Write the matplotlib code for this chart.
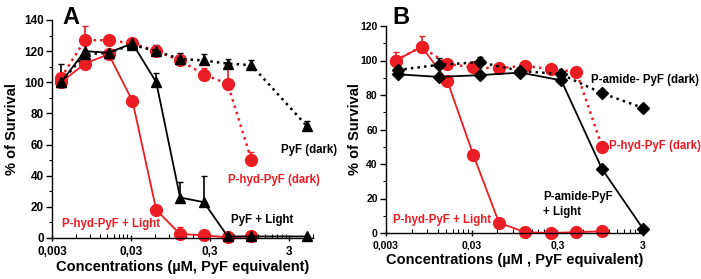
import numpy as np
import matplotlib
matplotlib.use('Agg')
import matplotlib.pyplot as plt
from matplotlib.ticker import FixedLocator, NullFormatter

plt.rcParams['font.family'] = ['Liberation Sans', 'DejaVu Sans']
plt.rcParams['font.weight'] = 'bold'

rouge = '#ec1c24'
noir = 'black'

# ------------------ PANEL A -------------------------------------------------
xA = [1/256, 1/128, 1/64, 1/32, 1/16, 1/8, 1/4, 1/2, 1, 5]
pyf_light = [100, 120, 119, 125, 100, 26, 23, 1, 1, 1]
pyf_light_err = [12, 0, 0, 3, 6, 10, 17, 0, 0, 0]
pyf_dark = [100, 118, 119, 124, 120, 115, 114, 112, 111, 72]
pyf_dark_err = [0, 0, 0, 2, 4, 4, 4, 3, 3, 3]

xA_hyd = [1/256, 1/128, 1/64, 1/32, 1/16, 1/8, 1/4, 1/2, 1]
hyd_light_A = [100, 112, 118, 88, 18, 2.6, 1.7, 0.5, 1]
hyd_light_A_err = [0, 0, 0, 0, 3.5, 4.7, 0, 0, 0]
hyd_dark_A = [103, 127, 127, 125, 120, 114, 105, 99, 50]
hyd_dark_A_err = [3, 9, 0, 0, 0, 2, 4, 13, 5]

# ------------------ PANEL B -------------------------------------------------
xB_amide = [3/729, 3/243, 3/81, 3/27, 3/9, 1, 3]
amide_light = [92, 90.5, 91.5, 93, 88.5, 37, 2.5]
amide_light_err = [0, 0, 0, 0, 0, 0, 0]
amide_dark = [94.5, 97.5, 99, 94, 92, 81, 72.5]
amide_dark_err = [0, 4, 3, 2, 0, 0, 0]

xB_hyd = [1/256, 1/128, 1/64, 1/32, 1/16, 1/8, 1/4, 1/2, 1]
hyd_light_B = [100, 108, 88, 45.5, 6, 0.5, 0, 0.5, 1]
hyd_light_B_err = [5, 6, 0, 0, 0, 0, 0, 0, 0]
hyd_dark_B = [100, 108, 98, 96, 95.5, 97, 95, 93.5, 50]
hyd_dark_B_err = [0, 0, 0, 0, 0, 0, 0, 0, 0]

xticks = [0.003, 0.03, 0.3, 3]
xticklabels = ['0,003', '0,03', '0,3', '3']

W, H = 701, 279
fig = plt.figure(figsize=(W/100, H/100), dpi=100)


def px(x0, y0, x1, y1):
    return [x0/W, 1 - y1/H, (x1 - x0)/W, (y1 - y0)/H]


def serie(ax, x, y, err, color, ls, marker, ms, lw):
    y = np.array(y, dtype=float)
    e = np.array(err, dtype=float)
    ax.errorbar(x, y, yerr=[np.zeros_like(e), e], fmt='none', ecolor=color,
                elinewidth=1.2, capsize=2.5, capthick=1.0, zorder=2)
    ax.plot(x, y, color=color, ls=ls, lw=lw, marker=marker, ms=ms,
            mec=color, mfc=color, zorder=3)


def habille(ax, xmax, ymax, fs_tick):
    ax.set_xscale('log')
    ax.set_xlim(0.003, xmax)
    ax.set_ylim(0, ymax)
    ax.spines['top'].set_visible(False)
    ax.spines['right'].set_visible(False)
    ax.xaxis.set_major_locator(FixedLocator(xticks))
    ax.set_xticklabels(xticklabels, fontsize=fs_tick, fontweight='bold')
    minors = [0.003*k*10**d for d in range(4) for k in range(2, 10)]
    ax.xaxis.set_minor_locator(FixedLocator(minors))
    ax.xaxis.set_minor_formatter(NullFormatter())
    ax.set_yticks(np.arange(0, ymax + 1, 20))
    ax.set_yticks(np.arange(0, ymax + 1, 10), minor=True)
    for lab in ax.get_yticklabels():
        lab.set_fontsize(fs_tick)
        lab.set_fontweight('bold')
    ax.tick_params(axis='x', which='major', direction='inout', length=5, width=1, pad=3)
    ax.tick_params(axis='x', which='minor', direction='in', length=3, width=0.8)
    ax.tick_params(axis='y', which='major', direction='out', length=4, width=1, pad=2)
    ax.tick_params(axis='y', which='minor', direction='out', length=2.5, width=0.8)
    for s in ['left', 'bottom']:
        ax.spines[s].set_linewidth(1.0)
        ax.spines[s].set_zorder(4)


# panneau A
axA = fig.add_axes(px(52, 20, 313, 238))
serie(axA, xA_hyd, hyd_dark_A, hyd_dark_A_err, rouge, ':', 'o', 8.5, 1.8)
serie(axA, xA_hyd, hyd_light_A, hyd_light_A_err, rouge, '-', 'o', 8.5, 1.3)
serie(axA, xA, pyf_dark, pyf_dark_err, noir, ':', '^', 7.5, 1.8)
serie(axA, xA, pyf_light, pyf_light_err, noir, '-', '^', 7.5, 1.3)
habille(axA, 6.0, 140, 8.5)
axA.set_xlabel('Concentrations (\u00b5M, PyF equivalent)', fontsize=10.5, fontweight='bold', labelpad=2)
axA.set_ylabel('% of Survival', fontsize=10.5, fontweight='bold')
axA.yaxis.set_label_coords(-0.128, 0.5)

# panneau B
axB = fig.add_axes(px(386, 26, 643, 233))
serie(axB, xB_hyd, hyd_dark_B, hyd_dark_B_err, rouge, ':', 'o', 8.5, 1.8)
serie(axB, xB_hyd, hyd_light_B, hyd_light_B_err, rouge, '-', 'o', 8.5, 1.3)
serie(axB, xB_amide, amide_dark, amide_dark_err, noir, ':', 'D', 6, 1.8)
serie(axB, xB_amide, amide_light, amide_light_err, noir, '-', 'D', 6, 1.3)
habille(axB, 3.0, 120, 7.5)
axB.set_xlabel('Concentrations (\u00b5M , PyF equivalent)', fontsize=10.5, fontweight='bold', labelpad=2)
axB.set_ylabel('% of Survival', fontsize=10.5, fontweight='bold')
axB.yaxis.set_label_coords(-0.095, 0.5)

for a in (axA, axB):
    for l in a.lines:
        l.set_clip_on(False)


def txt(x, y, s, c, fs=8.3, ha='left', va='center'):
    fig.text(x/W, 1 - y/H, s, color=c, fontsize=fs, fontweight='bold', ha=ha, va=va)


txt(62, 17, 'A', noir, fs=17)
txt(392, 17, 'B', noir, fs=17)
txt(281, 150, 'PyF (dark)', noir)
txt(228, 180, 'P-hyd-PyF (dark)', rouge)
txt(62, 224, 'P-hyd-PyF + Light', rouge)
txt(231, 220, 'PyF + Light', noir)
txt(591, 80, 'P-amide- PyF (dark)', noir)
txt(609, 146, 'P-hyd-PyF (dark)', rouge)
txt(543, 197, 'P-amide-PyF', noir)
txt(543, 212, '+ Light', noir)
txt(393, 220, 'P-hyd-PyF + Light', rouge)

plt.savefig('out.png', dpi=100)
